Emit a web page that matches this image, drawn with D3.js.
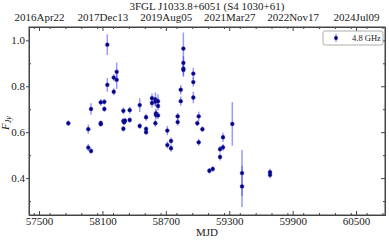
<!DOCTYPE html>
<meta charset="utf-8">
<style>
  body { margin: 0; background: #fff; }
  svg text { font-family: "Liberation Serif", "DejaVu Serif", serif; fill: #222; }
</style>
<svg id="chart" width="389" height="240"></svg>
<script src="https://cdn.jsdelivr.net/npm/d3@7"></script>
<script>
// 4.8 GHz light curve
var mjd = [57777, 57966, 57966, 57992, 57992, 58084, 58084, 58084, 58118, 58118,
           58146, 58146, 58207, 58207, 58235, 58235, 58298, 58298, 58305, 58314,
           58298, 58358, 58358, 58453, 58453, 58513, 58513, 58513, 58569, 58569,
           58601, 58601, 58606, 58606, 58601, 58626, 58626, 58626, 58714, 58714,
           58749, 58749, 58812, 58812, 58841, 58841, 58866, 58866, 58866, 58866,
           58960, 58960, 58960, 58998, 59011, 59011, 59046, 59112, 59144, 59213,
           59213, 59241, 59241, 59329, 59421, 59421, 59686, 59686];
var flux = [0.639, 0.613, 0.533, 0.518, 0.701, 0.640, 0.635, 0.730, 0.732, 0.701,
            0.981, 0.806, 0.838, 0.776, 0.863, 0.828, 0.693, 0.649, 0.643, 0.650,
            0.615, 0.696, 0.653, 0.718, 0.627, 0.665, 0.614, 0.600, 0.748, 0.727,
            0.743, 0.733, 0.682, 0.675, 0.639, 0.735, 0.714, 0.673, 0.607, 0.544,
            0.562, 0.530, 0.669, 0.644, 0.785, 0.735, 0.964, 0.902, 0.877, 0.871,
            0.855, 0.818, 0.751, 0.639, 0.669, 0.556, 0.613, 0.432, 0.440, 0.526,
            0.492, 0.578, 0.534, 0.636, 0.422, 0.364, 0.426, 0.414];
var fluxErr = [0.012, 0.02, 0.015, 0.012, 0.025, 0.01, 0.01, 0.015, 0.012, 0.012,
               0.045, 0.03, 0.015, 0.015, 0.04, 0.04, 0.015, 0.012, 0.012, 0.012,
               0.012, 0.015, 0.012, 0.03, 0.012, 0.015, 0.012, 0.012, 0.02, 0.02,
               0.03, 0.02, 0.02, 0.02, 0.015, 0.03, 0.02, 0.015, 0.02, 0.015,
               0.015, 0.015, 0.015, 0.015, 0.02, 0.02, 0.07, 0.03, 0.03, 0.03,
               0.025, 0.02, 0.025, 0.012, 0.02, 0.015, 0.012, 0.012, 0.012, 0.015,
               0.015, 0.02, 0.015, 0.095, 0.1, 0.09, 0.015, 0.015];

var xTicks = [57500, 58100, 58700, 59300, 59900, 60500];
var dateLabels = ["2016Apr22", "2017Dec13", "2019Aug05", "2021Mar27", "2022Nov17", "2024Jul09"];
var yTicks = [0.4, 0.6, 0.8, 1.0];

var data = mjd.map(function(d, i) { return {x: d, y: flux[i], e: fluxErr[i]}; });

var svg = d3.select("#chart"),
    margin = {top: 27, right: 4, bottom: 25, left: 29},
    width = +svg.attr("width") - margin.left - margin.right,
    height = +svg.attr("height") - margin.top - margin.bottom,
    g = svg.append("g").attr("transform", "translate(" + margin.left + "," + margin.top + ")");

var x = d3.scaleLinear().domain([57405, 60774]).range([0, width]);
var y = d3.scaleLinear().domain([0.2394, 1.058]).range([height, 0]);

var minorX = d3.range(57450, 60775, 150).filter(function(v) { return xTicks.indexOf(v) < 0; });
var minorY = [0.3, 0.5, 0.7, 0.9];

var axisColor = "#444";

// bottom axis, ticks pointing in
var bx = g.append("g").attr("transform", "translate(0," + height + ")")
    .call(d3.axisBottom(x).tickValues(xTicks).tickFormat(d3.format("d")).tickSizeInner(-4).tickSizeOuter(0).tickPadding(2));
bx.append("g").call(d3.axisBottom(x).tickValues(minorX).tickFormat("").tickSizeInner(-2).tickSizeOuter(0));

// top axis with calendar dates
var tx = g.append("g")
    .call(d3.axisTop(x).tickValues(xTicks).tickFormat(function(d, i) { return dateLabels[i]; }).tickSizeInner(-4).tickSizeOuter(0).tickPadding(6));
tx.append("g").call(d3.axisTop(x).tickValues(minorX).tickFormat("").tickSizeInner(-2).tickSizeOuter(0));

// left axis
var ly = g.append("g")
    .call(d3.axisLeft(y).tickValues(yTicks).tickFormat(d3.format(".1f")).tickSizeInner(3).tickSizeOuter(0).tickPadding(1));
ly.append("g").call(d3.axisLeft(y).tickValues(minorY).tickFormat("").tickSizeInner(-2).tickSizeOuter(0));

// right axis
var ry = g.append("g").attr("transform", "translate(" + width + ",0)")
    .call(d3.axisRight(y).tickValues(yTicks).tickFormat("").tickSizeInner(-4).tickSizeOuter(0));
ry.append("g").call(d3.axisRight(y).tickValues(minorY).tickFormat("").tickSizeInner(-2).tickSizeOuter(0));

g.selectAll(".domain, .tick line").attr("stroke", axisColor);
g.selectAll(".tick text").style("font-size", "11px").attr("fill", "#222");

// frame
g.append("rect").attr("width", width).attr("height", height)
    .attr("fill", "none").attr("stroke", axisColor).attr("stroke-width", 1);

// error bars
g.append("g").selectAll("line").data(data).enter().append("line")
    .attr("x1", function(d) { return x(d.x); })
    .attr("x2", function(d) { return x(d.x); })
    .attr("y1", function(d) { return y(d.y - d.e); })
    .attr("y2", function(d) { return y(d.y + d.e); })
    .attr("stroke", "#3333ff")
    .attr("stroke-opacity", 0.5)
    .attr("stroke-width", 1.5);

// points
g.append("g").selectAll("circle").data(data).enter().append("circle")
    .attr("cx", function(d) { return x(d.x); })
    .attr("cy", function(d) { return y(d.y); })
    .attr("r", 1.9)
    .attr("fill", "#000080")
    .attr("stroke", "#2a2ab0")
    .attr("stroke-width", 0.5);

// title + axis labels
svg.append("text").attr("x", 207).attr("y", 10).attr("text-anchor", "middle")
    .style("font-size", "11px").text("3FGL J1033.8+6051 (S4 1030+61)");

svg.append("text").attr("x", margin.left + width / 2).attr("y", 236).attr("text-anchor", "middle")
    .style("font-size", "11px").text("MJD");

var yl = svg.append("text").attr("transform", "translate(9,123) rotate(-90)").attr("text-anchor", "middle")
    .style("font-size", "11px");
yl.append("tspan").style("font-style", "italic").text("F");
yl.append("tspan").attr("dy", 2).style("font-size", "8px").style("font-style", "italic").text("Jy");

// legend
var lg = svg.append("g").attr("transform", "translate(323,31)");
lg.append("rect").attr("width", 60).attr("height", 14).attr("rx", 2)
    .attr("fill", "#fff").attr("stroke", "#999").attr("stroke-width", 0.8);
lg.append("line").attr("x1", 13).attr("x2", 13).attr("y1", 3).attr("y2", 11)
    .attr("stroke", "#3333ff").attr("stroke-opacity", 0.5).attr("stroke-width", 1.5);
lg.append("circle").attr("cx", 13).attr("cy", 7).attr("r", 1.9).attr("fill", "#000080");
lg.append("text").attr("x", 29).attr("y", 10).style("font-size", "8.5px").text("4.8 GHz");
</script>
